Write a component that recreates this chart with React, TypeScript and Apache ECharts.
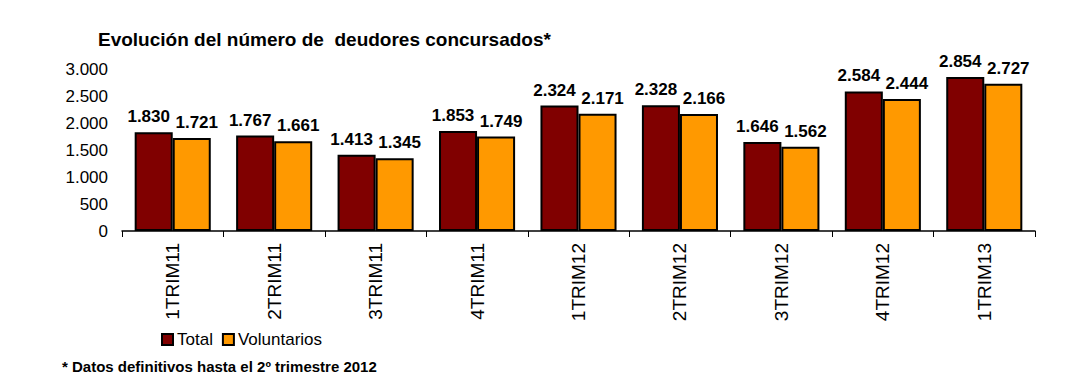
import React, { useEffect, useRef } from "react";
import * as echarts from "echarts";

const categories = ["1TRIM11", "2TRIM11", "3TRIM11", "4TRIM11", "1TRIM12", "2TRIM12", "3TRIM12", "4TRIM12", "1TRIM13"];
const totalValues = [1830, 1767, 1413, 1853, 2324, 2328, 1646, 2584, 2854];
const voluntariosValues = [1721, 1661, 1345, 1749, 2171, 2166, 1562, 2444, 2727];

const fmt = (v: number) => {
  const s = String(Math.round(v));
  return s.replace(/\B(?=(\d{3})+(?!\d))/g, ".");
};

const FONT = "'Liberation Sans', Arial, sans-serif";

export default function App() {
  const ref = useRef<HTMLDivElement>(null);
  useEffect(() => {
    if (!ref.current) return;
    const chart = echarts.init(ref.current, null, { renderer: "svg" });
    const label = (dx: number) => ({
      show: true,
      position: "top" as const,
      distance: 7,
      offset: [dx, 0],
      color: "#000",
      fontWeight: "bold" as const,
      fontSize: 17,
      fontFamily: FONT,
      formatter: (p: any) => fmt(p.value),
    });
    chart.setOption({
      animation: false,
      backgroundColor: "#fff",
      textStyle: { fontFamily: FONT },
      title: [
        {
          text: "Evolución del número de  deudores concursados*",
          left: 93,
          top: 25,
          textStyle: { fontSize: 19, fontWeight: "bold", color: "#000", fontFamily: FONT },
        },
        {
          text: "* Datos definitivos hasta el 2º trimestre 2012",
          left: 57,
          top: 354,
          textStyle: { fontSize: 15, fontWeight: "bold", color: "#000", fontFamily: FONT },
        },
      ],
      legend: {
        left: 156,
        top: 326,
        itemWidth: 11,
        itemHeight: 11,
        itemGap: 9,
        icon: "rect",
        textStyle: { fontSize: 17, color: "#000", fontFamily: FONT, padding: [0, 0, 0, -1] },
        data: ["Total", "Voluntarios"],
      },
      grid: { left: 122, right: 45, top: 69, bottom: 156, containLabel: false },
      xAxis: {
        type: "category",
        data: categories,
        axisLine: { show: true, lineStyle: { color: "#000", width: 1.5 } },
        axisTick: { show: true, length: 6, lineStyle: { color: "#000" } },
        axisLabel: { rotate: 90, fontSize: 19, color: "#000", margin: 12, fontFamily: FONT },
      },
      yAxis: {
        type: "value",
        min: 0,
        max: 3000,
        interval: 500,
        axisLine: { show: false },
        axisTick: { show: false },
        splitLine: { show: false },
        axisLabel: { fontSize: 17, color: "#000", margin: 14, fontFamily: FONT, formatter: (v: number) => fmt(v) },
      },
      series: [
        {
          name: "Total",
          type: "bar",
          data: totalValues,
          barGap: "0%",
          barCategoryGap: "25%",
          itemStyle: { color: "#800000", borderColor: "#000", borderWidth: 2 },
          label: label(-5),
        },
        {
          name: "Voluntarios",
          type: "bar",
          data: voluntariosValues,
          itemStyle: { color: "#FF9900", borderColor: "#000", borderWidth: 2 },
          label: label(5),
        },
      ],
    });
    return () => chart.dispose();
  }, []);
  return <div ref={ref} style={{ width: 1080, height: 387, marginLeft: -8, marginTop: -8 }} />;
}
